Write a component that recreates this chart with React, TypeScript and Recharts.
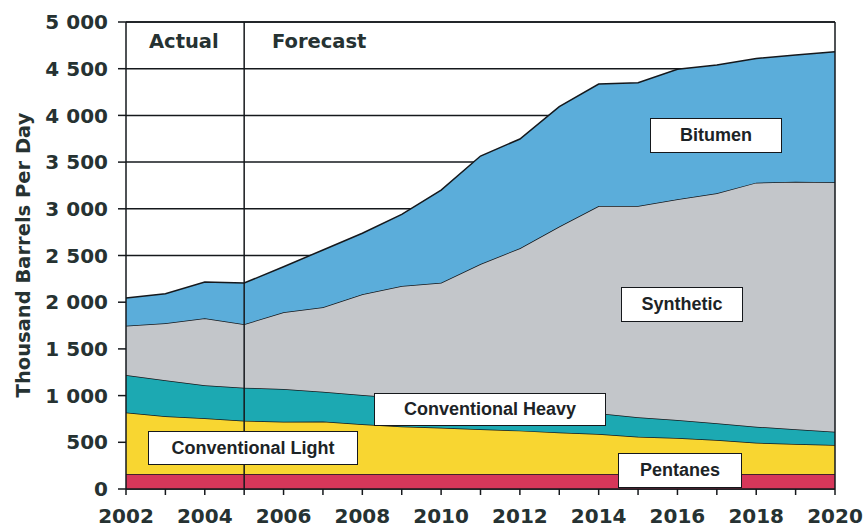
import { AreaChart, Area, XAxis, YAxis, CartesianGrid, ReferenceLine } from 'recharts'

// production by crude type, thousand barrels per day (stacked, bottom first)
const years = [2002, 2003, 2004, 2005, 2006, 2007, 2008, 2009, 2010, 2011, 2012, 2013, 2014, 2015, 2016, 2017, 2018, 2019, 2020]
const pentanes = [160, 160, 160, 160, 160, 160, 160, 160, 160, 160, 160, 160, 160, 160, 160, 160, 160, 160, 160]
const convLight = [660, 620, 597, 571, 561, 564, 532, 510, 495, 480, 465, 445, 430, 400, 385, 365, 335, 322, 311]
const convHeavy = [400, 385, 353, 354, 350, 318, 314, 305, 285, 265, 245, 235, 222, 207, 194, 178, 172, 157, 143]
const synthetic = [528, 609, 717, 678, 821, 903, 1078, 1198, 1269, 1504, 1707, 1970, 2218, 2263, 2362, 2463, 2613, 2651, 2670]
const bitumen = [296, 316, 389, 442, 488, 614, 654, 768, 992, 1156, 1170, 1284, 1306, 1320, 1393, 1374, 1330, 1357, 1398]

const yTicks = [0, 500, 1000, 1500, 2000, 2500, 3000, 3500, 4000, 4500, 5000]
const forecastStart = 2005

const data = years.map((year, i) => ({
  year,
  pentanes: pentanes[i],
  convLight: convLight[i],
  convHeavy: convHeavy[i],
  synthetic: synthetic[i],
  bitumen: bitumen[i],
}))

const INK = '#1c2326'
const LINE = '#15181c'
const axisFont = { fontFamily: '"DejaVu Sans", Verdana, sans-serif', fontWeight: 700, fontSize: 20, fill: '#263232' }

const fmtThousands = (v: number) => (v >= 1000 ? `${Math.floor(v / 1000)} ${String(v % 1000).padStart(3, '0')}` : String(v))

const boxStyle: React.CSSProperties = {
  position: 'absolute',
  background: '#fff',
  border: `1.5px solid ${LINE}`,
  boxSizing: 'border-box',
  display: 'flex',
  alignItems: 'center',
  justifyContent: 'center',
  fontFamily: '"Liberation Sans", Arial, sans-serif',
  fontWeight: 700,
  fontSize: 18,
  color: INK,
}

const seriesBoxes = [
  { text: 'Bitumen', left: 650, top: 118, width: 132, height: 35 },
  { text: 'Synthetic', left: 621, top: 287, width: 122, height: 35 },
  { text: 'Conventional Heavy', left: 374, top: 393, width: 232, height: 33 },
  { text: 'Conventional Light', left: 148, top: 431, width: 210, height: 34 },
  { text: 'Pentanes', left: 618, top: 453, width: 124, height: 35 },
]

const areaProps = {
  type: 'linear' as const,
  stackId: 'supply',
  stroke: LINE,
  strokeWidth: 1.5,
  fillOpacity: 1,
  isAnimationActive: false,
  dot: false,
  activeDot: false,
}

export default function App() {
  return (
    <div style={{ position: 'absolute', left: 0, top: 0, width: 867, height: 529, background: '#fff' }}>
      <AreaChart width={867} height={529} data={data} margin={{ top: 22, right: 32, bottom: 0, left: 0 }}>
        <CartesianGrid vertical={false} stroke={LINE} strokeWidth={1.5} />
        <XAxis
          dataKey="year"
          type="number"
          domain={[2002, 2020]}
          ticks={years}
          height={40}
          tickSize={6}
          tickMargin={14}
          tick={axisFont}
          tickFormatter={(v: number) => (v % 2 === 0 ? String(v) : '')}
          axisLine={{ stroke: LINE, strokeWidth: 1.5 }}
          tickLine={{ stroke: LINE, strokeWidth: 1.5 }}
          interval={0}
        />
        <YAxis
          domain={[0, 5000]}
          ticks={yTicks}
          width={126}
          tickSize={8}
          tickMargin={10}
          tick={axisFont}
          tickFormatter={fmtThousands}
          axisLine={{ stroke: LINE, strokeWidth: 1.5 }}
          tickLine={{ stroke: LINE, strokeWidth: 1.5 }}
          interval={0}
        />
        <Area {...areaProps} dataKey="pentanes" fill="#d6375a" />
        <Area {...areaProps} dataKey="convLight" fill="#f8d631" />
        <Area {...areaProps} dataKey="convHeavy" fill="#1ca9b2" />
        <Area {...areaProps} dataKey="synthetic" fill="#c3c6ca" />
        <Area {...areaProps} dataKey="bitumen" fill="#5badda" />
        <ReferenceLine x={forecastStart} stroke={LINE} strokeWidth={1.5} />
        <ReferenceLine x={2020} stroke={LINE} strokeWidth={1.5} />
        <ReferenceLine y={5000} stroke={LINE} strokeWidth={1.5} />
      </AreaChart>

      <div
        style={{
          position: 'absolute',
          left: 23,
          top: 255,
          transform: 'translate(-50%, -50%) rotate(-90deg)',
          whiteSpace: 'nowrap',
          fontFamily: '"DejaVu Sans", Verdana, sans-serif',
          fontWeight: 700,
          fontSize: 19.5,
          color: '#263232',
        }}
      >
        Thousand Barrels Per Day
      </div>

      <div style={{ position: 'absolute', left: 149, top: 30, fontFamily: '"DejaVu Sans", Verdana, sans-serif', fontWeight: 700, fontSize: 19.5, color: '#263232' }}>
        Actual
      </div>
      <div style={{ position: 'absolute', left: 272, top: 30, fontFamily: '"DejaVu Sans", Verdana, sans-serif', fontWeight: 700, fontSize: 19.5, color: '#263232' }}>
        Forecast
      </div>

      {seriesBoxes.map(b => (
        <div key={b.text} style={{ ...boxStyle, left: b.left, top: b.top, width: b.width, height: b.height }}>
          {b.text}
        </div>
      ))}
    </div>
  )
}
